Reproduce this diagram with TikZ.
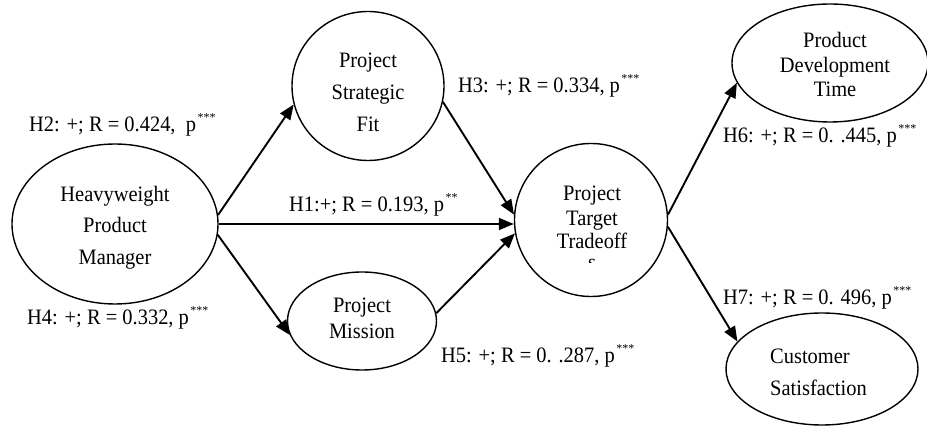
\documentclass[tikz,border=0pt]{standalone}
\usepackage{fontspec}
\setmainfont{Liberation Serif}
\usetikzlibrary{shapes.geometric,arrows.meta}
% narrow text a little, as set in the original figure
\newcommand\narrow[1]{\scalebox{0.93}[1]{#1}}
\newcommand\sigstars[1]{\kern1.5pt\raisebox{10pt}{\fontsize{12}{12}\selectfont #1}}
\begin{document}
\begin{tikzpicture}[x=1pt,y=-1pt,
  blob/.style={draw, ellipse, line width=1.4pt, inner sep=0pt},
  txt/.style={anchor=base, inner sep=0pt, font=\fontsize{22}{26}\selectfont},
  hyp/.style={anchor=base west, inner sep=0pt, font=\fontsize{22}{26}\selectfont},
  link/.style={line width=1.9pt, -{Triangle[length=15pt,width=12pt]}}]
\useasboundingbox (0,0) rectangle (927,427);

% constructs
\node[blob, minimum width=206pt, minimum height=160pt] (hpm) at (115,224) {};
\node[blob, minimum width=152pt, minimum height=149pt] (psf) at (368,86) {};
\node[blob, minimum width=149pt, minimum height=98pt]  (pm)  at (362,321) {};
\node[blob, minimum width=153pt, minimum height=153pt] (ptt) at (591,220) {};
\node[blob, minimum width=196pt, minimum height=118pt] (pdt) at (830,63) {};
\node[blob, minimum width=192pt, minimum height=112pt] (cs)  at (822,369) {};

% construct names
\node[txt] (hpm1) at (115,202) {\narrow{Heavyweight}};
\node[txt] (hpm2) at (115,233) {\narrow{Product}};
\node[txt] (hpm3) at (115,265) {\narrow{Manager}};
\node[txt] (psf1) at (368,68)  {\narrow{Project}};
\node[txt] (psf2) at (368,100) {\narrow{Strategic}};
\node[txt] (psf3) at (368,132) {\narrow{Fit}};
\node[txt] (pm1)  at (362,313) {\narrow{Project}};
\node[txt] (pm2)  at (362,339) {\narrow{Mission}};
\node[txt] (ptt1) at (592,201) {\narrow{Project}};
\node[txt] (ptt2) at (592,226) {\narrow{Target}};
\node[txt] (ptt3) at (592,249) {\narrow{Tradeoff}};
\begin{scope}
  \clip (570,250) rectangle (615,263);
  \node[txt] (ptt4) at (592,270) {\narrow{s}};
\end{scope}
\node[txt] (pdt1) at (835,48) {\narrow{Product}};
\node[txt] (pdt2) at (835,73) {\narrow{Development}};
\node[txt] (pdt3) at (835,97) {\narrow{Time}};
\node[txt, anchor=base west] (cs1) at (770,364) {\narrow{Customer}};
\node[txt, anchor=base west] (cs2) at (770,396) {\narrow{Satisfaction}};

% paths
\draw[link] (hpm.5) -- (psf.194);
\draw[link] (hpm.east) -- (hpm.east -| ptt.west);
\draw[link] (hpm.-6) -- (pm.191);
\draw[link] (psf.-12) -- (ptt.176);
\draw[link] (pm.6) -- (ptt.190);
\draw[link] (ptt.4) -- (pdt.192);
\draw[link] (ptt.-5) -- (cs.162);

% path coefficients
\node[hyp] (h2) at (29,132)  {\narrow{H2: +; R = 0.424,\ \ p}\sigstars{***}};
\node[hyp] (h4) at (27,325)  {\narrow{H4: +; R = 0.332, p}\sigstars{***}};
\node[hyp] (h1) at (289,212) {\narrow{H1:+; R = 0.193, p}\sigstars{**}};
\node[hyp] (h3) at (458,93)  {\narrow{H3: +; R = 0.334, p}\sigstars{***}};
\node[hyp] (h5) at (441,363) {\narrow{H5: +; R = 0. .287, p}\sigstars{***}};
\node[hyp] (h6) at (723,143) {\narrow{H6: +; R = 0. .445, p}\sigstars{***}};
\node[hyp] (h7) at (723,305) {\narrow{H7: +; R = 0. 496, p}\sigstars{***}};
\end{tikzpicture}
\end{document}
